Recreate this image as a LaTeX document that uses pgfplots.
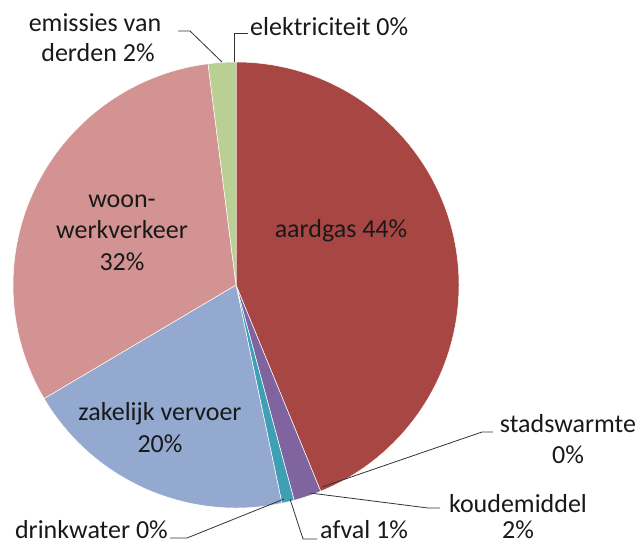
\documentclass[border=0pt]{standalone}
\usepackage{pgfplots}
\pgfplotsset{compat=1.18}
\usepackage{pgfplotstable}
\usepackage{fontspec}
\setmainfont{Carlito}
\definecolor{slice0}{HTML}{A84643}
\definecolor{slice1}{HTML}{F79646}
\definecolor{slice2}{HTML}{7F64A0}
\definecolor{slice3}{HTML}{3FA0B5}
\definecolor{slice4}{HTML}{4F81BD}
\definecolor{slice5}{HTML}{93A9D0}
\definecolor{slice6}{HTML}{D39392}
\definecolor{slice7}{HTML}{BACF94}
\definecolor{slice8}{HTML}{C0504D}
\pgfplotstableread{
name value
aardgas 43.8
stadswarmte 0.0
koudemiddel 2.0
afval 0.9
drinkwater 0.0
zakelijk 19.8
woon 31.5
emissies 2.0
elektriciteit 0.0
}\piedata
\begin{document}
\fontsize{26}{31}\selectfont
\begin{tikzpicture}
\useasboundingbox (0,0) rectangle (639pt,547pt);
\begin{axis}[x=1pt,y=1pt,xmin=0,xmax=639,ymin=0,ymax=547,hide axis,clip=false,
  anchor=south west, at={(0,0)}]
\pgfplotsextra{
  \gdef\cum{0}
  \foreach \i in {0,...,8}{
    \pgfplotstablegetelem{\i}{value}\of\piedata
    \let\v\pgfplotsretval
    \pgfmathsetmacro\a{90-3.6*\cum}
    \pgfmathsetmacro\b{90-3.6*(\cum+\v)}
    \pgfmathsetmacro\c{\cum+\v}
    \pgfmathparse{\v>0?1:0}
    \ifnum\pgfmathresult=1
      \fill[slice\i, draw=white, line width=0.5pt] (axis cs:236,262) -- ++(\a:223pt) arc[start angle=\a, end angle=\b, radius=223pt] -- cycle;
    \fi
    \xdef\cum{\c}
  }
}
% leader lines
\draw[black!80, line width=0.8pt] (axis cs:234,485) -- (axis cs:234,514) -- (axis cs:248,514);
\draw[black!80, line width=0.8pt] (axis cs:222,485) -- (axis cs:190,516) -- (axis cs:178,516);
\draw[black!80, line width=0.8pt] (axis cs:322,60) -- (axis cs:482,115) -- (axis cs:493,115);
\draw[black!80, line width=0.8pt] (axis cs:310,54) -- (axis cs:428,39) -- (axis cs:440,39);
\draw[black!80, line width=0.8pt] (axis cs:290,48) -- (axis cs:303,8) -- (axis cs:317,8);
\draw[black!80, line width=0.8pt] (axis cs:284,48) -- (axis cs:187,9) -- (axis cs:170,9);
% labels
\tikzset{lab/.style={inner sep=0pt, anchor=base, text=black!90}}
\node[lab] at (axis cs:95,515) {emissies van};
\node[lab] at (axis cs:98,485) {derden 2\%};
\node[lab, anchor=base west] at (axis cs:250,511) {elektriciteit 0\%};
\node[lab] at (axis cs:122,340) {woon-};
\node[lab] at (axis cs:122,309) {werkverkeer};
\node[lab] at (axis cs:122,277) {32\%};
\node[lab] at (axis cs:341,310) {aardgas 44\%};
\node[lab] at (axis cs:160,127) {zakelijk vervoer};
\node[lab] at (axis cs:160,95) {20\%};
\node[lab] at (axis cs:568,115) {stadswarmte};
\node[lab] at (axis cs:568,84) {0\%};
\node[lab] at (axis cs:518,35) {koudemiddel};
\node[lab] at (axis cs:518,9) {2\%};
\node[lab, anchor=base west] at (axis cs:320,9) {afval 1\%};
\node[lab, anchor=base east] at (axis cs:168,9) {drinkwater 0\%};
\end{axis}
\end{tikzpicture}
\end{document}
